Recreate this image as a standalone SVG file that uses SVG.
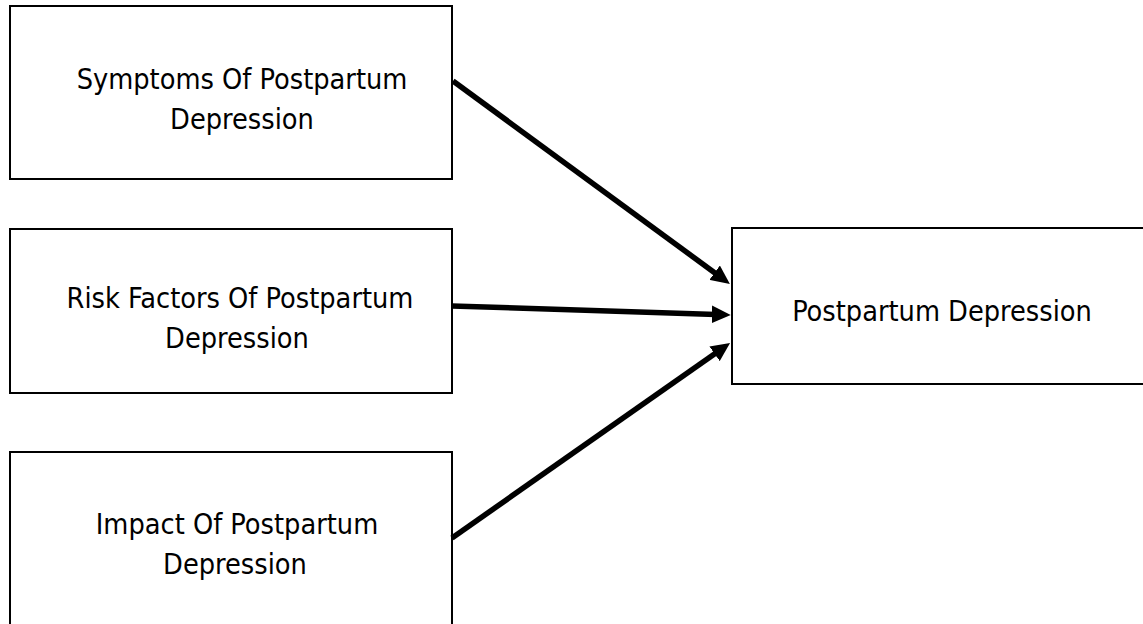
<svg xmlns="http://www.w3.org/2000/svg" width="1143" height="624" viewBox="0 0 1143 624">
<style>
.box{fill:#fff;stroke:#000;stroke-width:2}
.lbl{font-family:"DejaVu Sans Condensed","DejaVu Sans",Verdana,sans-serif;font-stretch:condensed;font-size:28.6px;fill:#000;text-anchor:middle}
.conn{stroke:#000;stroke-width:5.5;fill:none;marker-end:url(#ah)}
</style>
<defs>
<marker id="ah" markerUnits="userSpaceOnUse" markerWidth="20" markerHeight="18" refX="4" refY="8.5" orient="auto" viewBox="0 0 19 17">
<path d="M0,0 L18,8.5 L0,17 z" fill="#000"/>
</marker>
</defs>
<rect width="1143" height="624" fill="#fff"/>
<g id="n1"><rect class="box" x="10" y="6" width="442" height="173"/>
<text class="lbl" x="242" y="89">Symptoms Of Postpartum</text>
<text class="lbl" x="242" y="129">Depression</text></g>
<g id="n2"><rect class="box" x="10" y="229" width="442" height="164"/>
<text class="lbl" x="240" y="308">Risk Factors Of Postpartum</text>
<text class="lbl" x="237" y="348">Depression</text></g>
<g id="n3"><rect class="box" x="10" y="452" width="442" height="190"/>
<text class="lbl" x="237" y="534">Impact Of Postpartum</text>
<text class="lbl" x="235" y="574">Depression</text></g>
<g id="n4"><rect class="box" x="732" y="228" width="430" height="156"/>
<text class="lbl" x="942" y="321">Postpartum Depression</text></g>
<g id="connectors">
<line class="conn" x1="453" y1="81" x2="718" y2="275.2"/>
<line class="conn" x1="452" y1="306" x2="716" y2="314.5"/>
<line class="conn" x1="452" y1="538" x2="718" y2="351.4"/>
</g>
</svg>
